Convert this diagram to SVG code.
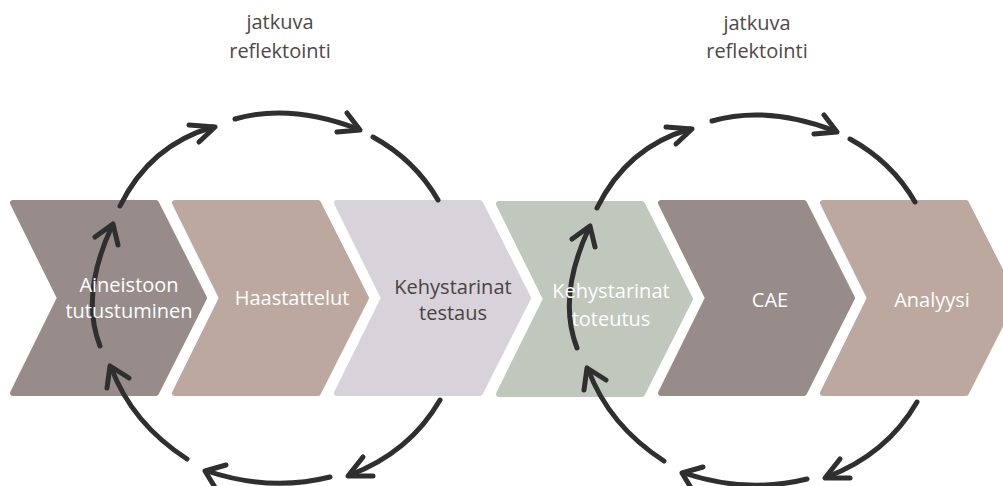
<svg xmlns="http://www.w3.org/2000/svg" width="1003" height="486" viewBox="0 0 1003 486">
<defs>
<style>
.chev{stroke-width:6;stroke-linejoin:round}
.c1{fill:#978c89;stroke:#978c89}
.c2{fill:#bca89e;stroke:#bca89e}
.c3{fill:#d8d2db;stroke:#d8d2db}
.c4{fill:#c0c7bc;stroke:#c0c7bc}
.t{font-family:"Open Sans","Liberation Sans",sans-serif;font-size:20px;text-anchor:middle}
.w{fill:#ffffff}
.d{fill:#4a4242}
.lbl{fill:#4f4848}
.arc{fill:none;stroke:#2f2f2f;stroke-width:5;stroke-linecap:round;stroke-linejoin:round}
</style>
<path id="chevShape" d="M3,3 L146,3 L194,98 L146,193 L3,193 L50,98 Z"/>
<g id="loop">
<path d="M120,206 Q150,145 213,127"/>
<path d="M189,125 L215,127 L199,142"/>
<path d="M235,119 Q290,103 358,129"/>
<path d="M337,132 L360,130 L347,113"/>
<path d="M373,137 Q415,160 438,200"/>
<path d="M440,400 Q410,452 350,475"/>
<path d="M363,457 L348,476 L373,476"/>
<path d="M330,477 Q270,492 207,471"/>
<path d="M226,465 L205,471 L216,489"/>
<path d="M187,459 C150,435 125,405 111,367"/>
<path d="M129,378 L110,366 L107,388"/>
<path d="M100,346 Q80,295 112,226"/>
<path d="M95,237 L113,224 L118,245"/>
</g>
</defs>
<g id="node-aineistoon">
<use href="#chevShape" class="chev c1" transform="translate(10,200)"/>
</g>
<g id="node-haastattelut">
<use href="#chevShape" class="chev c2" transform="translate(172,200)"/>
</g>
<g id="node-testaus">
<use href="#chevShape" class="chev c3" transform="translate(334,200)"/>
</g>
<g id="node-toteutus">
<use href="#chevShape" class="chev c4" transform="translate(496,201)"/>
</g>
<g id="node-cae">
<use href="#chevShape" class="chev c1" transform="translate(658,200)"/>
</g>
<g id="node-analyysi">
<use href="#chevShape" class="chev c2" transform="translate(820,200)"/>
</g>
<g id="connectors" class="arc">
<use href="#loop"/>
<use href="#loop" transform="translate(477,2)"/>
</g>
<g id="text-aineistoon">
<text class="t w" x="129" y="292">Aineistoon</text>
<text class="t w" x="129" y="318">tutustuminen</text>
</g>
<g id="text-haastattelut">
<text class="t w" x="292" y="305">Haastattelut</text>
</g>
<g id="text-testaus">
<text class="t d" x="453" y="294">Kehystarinat</text>
<text class="t d" x="453" y="320">testaus</text>
</g>
<g id="text-toteutus">
<text class="t w" x="611" y="298">Kehystarinat</text>
<text class="t w" x="611" y="326">toteutus</text>
</g>
<g id="text-cae">
<text class="t w" x="770" y="307">CAE</text>
</g>
<g id="text-analyysi">
<text class="t w" x="932" y="307">Analyysi</text>
</g>
<g id="label-left">
<text class="t lbl" x="280" y="29">jatkuva</text>
<text class="t lbl" x="280" y="58">reflektointi</text>
</g>
<g id="label-right">
<text class="t lbl" x="757" y="30">jatkuva</text>
<text class="t lbl" x="757" y="58">reflektointi</text>
</g>
</svg>
